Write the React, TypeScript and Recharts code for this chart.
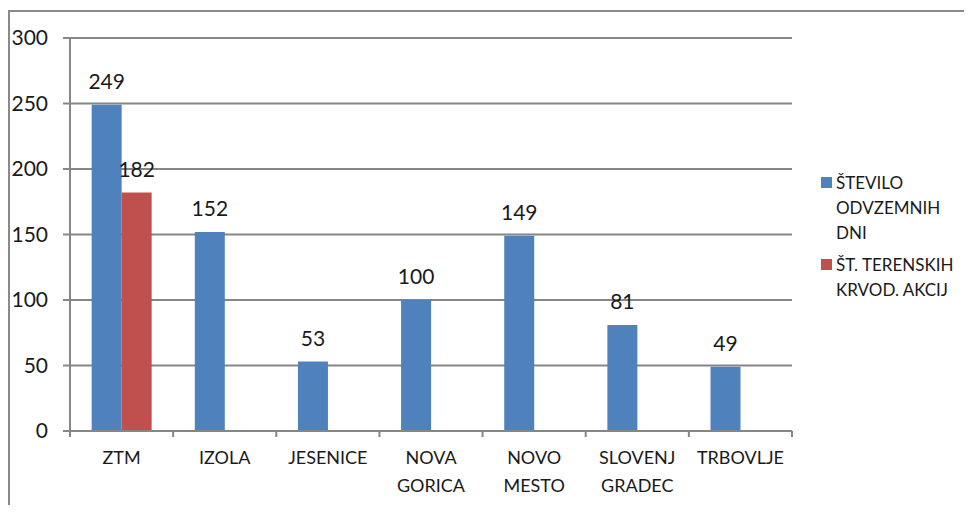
import { BarChart, Bar, XAxis, YAxis, CartesianGrid, LabelList } from 'recharts';

const categories = ['ZTM', 'IZOLA', 'JESENICE', 'NOVA GORICA', 'NOVO MESTO', 'SLOVENJ GRADEC', 'TRBOVLJE'];
const stDni = [249, 152, 53, 100, 149, 81, 49];
const stAkcij = [182, null, null, null, null, null, null];
const yTicks = [0, 50, 100, 150, 200, 250, 300];

const series = [
    { key: 'dni', name: 'ŠTEVILO ODVZEMNIH DNI', color: '#4F81BD' },
    { key: 'akcije', name: 'ŠT. TERENSKIH KRVOD. AKCIJ', color: '#C0504D' },
];

const data = categories.map((name, i) => ({
    name,
    dni: stDni[i],
    akcije: stAkcij[i],
}));

const FONT = 'Lato, "Liberation Sans", sans-serif';
const AXIS = '#868686';
const TEXT = '#1a1a1a';
const BAND = (792 - 70) / categories.length;

function CategoryTick(props: any) {
    const { x, y, payload, index } = props;
    const words = String(payload.value).split(' ');
    return (
        <g>
            <line x1={x - BAND / 2} y1={y - 8} x2={x - BAND / 2} y2={y - 2} stroke={AXIS} strokeWidth={2} />
            {index === categories.length - 1 && (
                <line x1={x + BAND / 2} y1={y - 8} x2={x + BAND / 2} y2={y - 2} stroke={AXIS} strokeWidth={2} />
            )}
            <text x={x} y={y + 25} textAnchor="middle" fill={TEXT} fontSize={18} fontFamily={FONT}>
                {words.map((w, i) => (
                    <tspan key={i} x={x} dy={i === 0 ? 0 : 28}>{w}</tspan>
                ))}
            </text>
        </g>
    );
}

// legend drawn as plain html next to the plot
function SideLegend() {
    return (
        <div
            style={{
                position: 'absolute',
                left: 821,
                top: 170,
                fontFamily: FONT,
                fontSize: 17,
                color: TEXT,
                lineHeight: '25px',
            }}
        >
            {series.map((s) => (
                <div key={s.key} style={{ display: 'flex', alignItems: 'flex-start', marginBottom: 7 }}>
                    <div style={{ width: 11, height: 11, background: s.color, marginTop: 7, marginRight: 4, flexShrink: 0 }} />
                    <div style={{ width: 125 }}>{s.name}</div>
                </div>
            ))}
        </div>
    );
}

export default function App() {
    return (
        <div style={{ position: 'relative', width: 972, height: 513, margin: -8, background: '#fff', overflow: 'hidden' }}>
            <div
                style={{
                    position: 'absolute',
                    left: 8,
                    top: 10,
                    width: 980,
                    height: 520,
                    borderLeft: '2px solid #8a8a8a',
                    borderTop: '2px solid #8a8a8a',
                }}
            />
            <BarChart
                width={972}
                height={513}
                data={data}
                margin={{ top: 38, right: 180, bottom: 0, left: 0 }}
                barCategoryGap="21%"
                barGap={0}
                style={{ position: 'absolute', left: 0, top: 0 }}
            >
                <CartesianGrid vertical={false} stroke={AXIS} strokeWidth={2} />
                <XAxis
                    dataKey="name"
                    stroke={AXIS}
                    strokeWidth={2}
                    tickLine={false}
                    interval={0}
                    tick={<CategoryTick />}
                    height={82}
                />
                <YAxis
                    domain={[0, 300]}
                    ticks={yTicks}
                    width={70}
                    stroke={AXIS}
                    strokeWidth={2}
                    tickSize={7}
                    tickMargin={15}
                    tick={{ fill: TEXT, fontSize: 21, fontFamily: FONT }}
                />
                {series.map((s) => (
                    <Bar key={s.key} dataKey={s.key} name={s.name} fill={s.color} isAnimationActive={false}>
                        <LabelList dataKey={s.key} position="top" offset={16} fill={TEXT} fontSize={21} fontFamily={FONT} />
                    </Bar>
                ))}
            </BarChart>
            <SideLegend />
        </div>
    );
}
